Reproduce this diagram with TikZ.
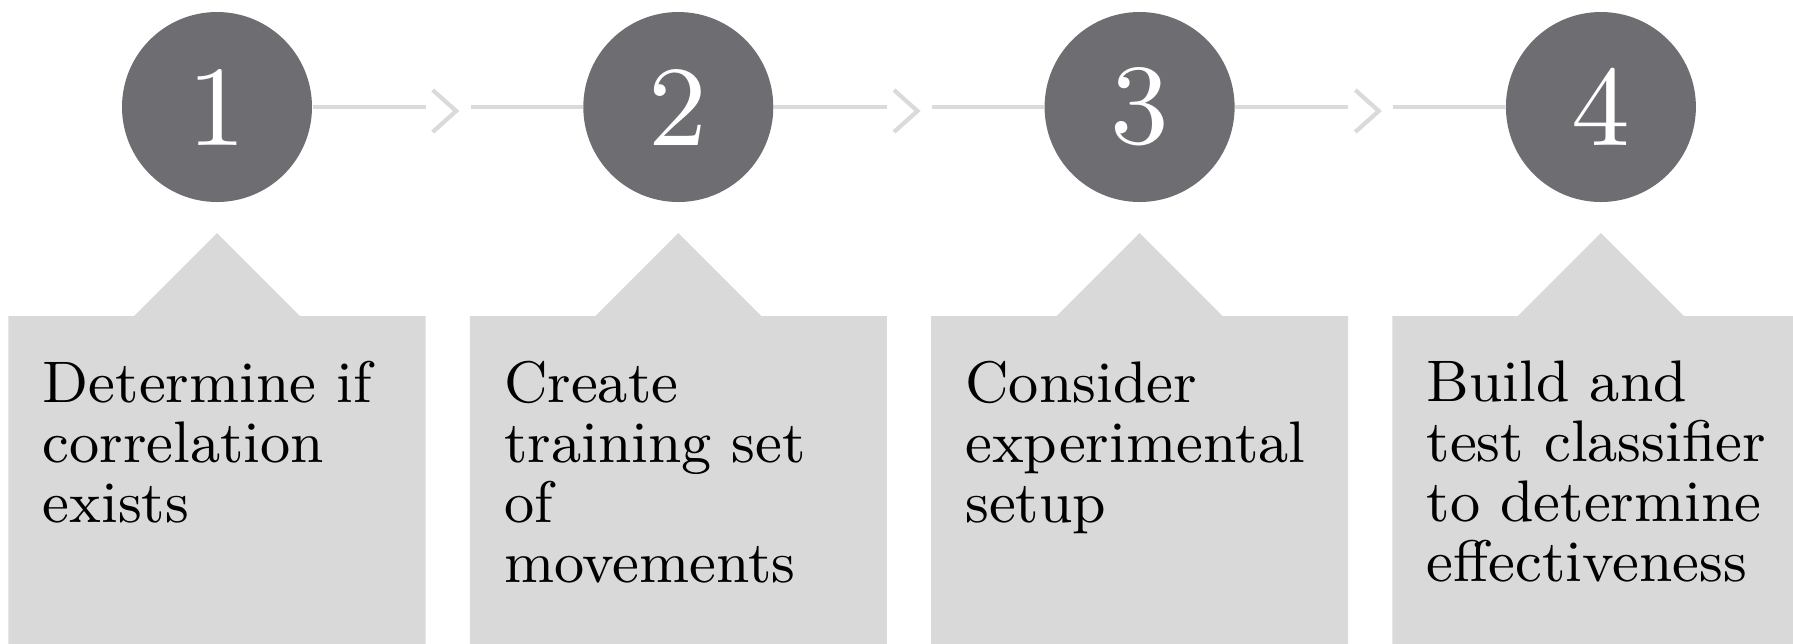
\documentclass[tikz,border=0pt]{standalone}
\usetikzlibrary{calc}
\definecolor{numgray}{RGB}{110,109,114}
\definecolor{boxgray}{RGB}{217,217,217}
\definecolor{linegray}{RGB}{218,218,218}
\newcommand{\stepfont}{\fontsize{9}{9.225}\selectfont}
\newcommand{\stepno}[1]{\scalebox{3.61}{\stepfont #1}}

\begin{document}
\begin{tikzpicture}[
  numcircle/.style={circle, fill=numgray, text=white, minimum size=1.9cm, inner sep=0pt},
  steptext/.style={anchor=north west, align=left, inner sep=0pt, scale=1.853, font=\stepfont},
  link/.style={linegray, line width=1pt},
  chev/.style={linegray, line width=1.2pt, line join=miter}]
\useasboundingbox (0,0) rectangle (17.93,-6.43);
% numbered circles
\foreach \i in {1,...,4}
  \node[numcircle] (c\i) at ({2.17+4.613*(\i-1)},-1.07) {\stepno{\i}};
% boxes with the pointer on top
\foreach \i in {1,...,4} {
  \coordinate (b\i) at ({2.17+4.613*(\i-1)},-3.16);
  \fill[boxgray] ($(b\i)+(-2.085,0)$) -- ($(b\i)+(-0.83,0)$) -- ($(b\i)+(0,0.83)$)
    -- ($(b\i)+(0.83,0)$) -- ($(b\i)+(2.085,0)$) -- ($(b\i)+(2.085,-3.4)$)
    -- ($(b\i)+(-2.085,-3.4)$) -- cycle;
}
% texts
\node[steptext] (t1) at ($(b1)+(-1.755,-0.435)$) {Determine if\\correlation\\exists};
\node[steptext] (t2) at ($(b2)+(-1.755,-0.435)$) {Create\\training set\\of\\movements};
\node[steptext] (t3) at ($(b3)+(-1.755,-0.435)$) {Consider\\experimental\\setup};
\node[steptext] (t4) at ($(b4)+(-1.755,-0.435)$) {Build and\\test classifier\\to determine\\effectiveness};
% links and chevrons
\foreach \i/\j in {1/2,2/3,3/4} {
  \coordinate (g\i) at ($(c\i)!0.5!(c\j)$);
  \draw[link] (c\i.east) -- ($(g\i)+(-0.22,0)$);
  \draw[link] ($(g\i)+(0.23,0)$) -- (c\j.west);
  \draw[chev] ($(g\i)+(-0.15,0.17)$) -- ($(g\i)+(0.085,-0.04)$) -- ($(g\i)+(-0.15,-0.25)$);
}
\end{tikzpicture}
\end{document}
